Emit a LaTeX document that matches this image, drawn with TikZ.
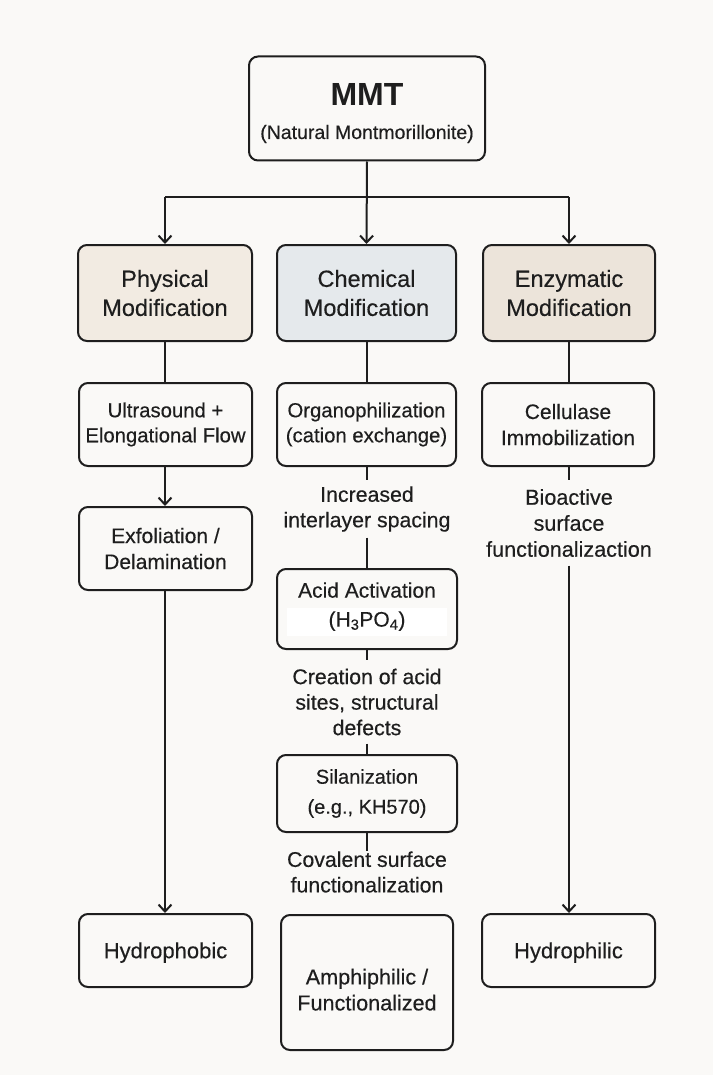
\documentclass[tikz,border=0pt]{standalone}
\usepackage{fontspec}
\setmainfont{Liberation Sans}[UprightFeatures={FakeBold=0.35}]
\usetikzlibrary{arrows.meta}
\definecolor{bg}{HTML}{FAF9F7}
\definecolor{ink}{HTML}{1E1E1E}
\definecolor{physfill}{HTML}{F2EBE2}
\definecolor{chemfill}{HTML}{E5E9EC}
\definecolor{enzfill}{HTML}{ECE4DA}
\begin{document}
\begin{tikzpicture}[x=1pt,y=-1pt,
  box/.style={draw=ink, line width=2pt, rounded corners=9pt, fill=bg, align=center, text=ink, inner sep=0pt, font=\fontsize{21}{26}\selectfont},
  modbox/.style={box, font=\fontsize{23.5}{29}\selectfont},
  note/.style={align=center, text=ink, inner sep=0pt, font=\fontsize{21.3}{25.5}\selectfont},
  link/.style={draw=ink, line width=2pt},
  arr/.style={link, -{Straight Barb[length=7pt,width=13pt,line width=2pt]}},
]
\fill[bg] (0,0) rectangle (713,1075);
\useasboundingbox (0,0) rectangle (713,1075);

% top
\node[box, minimum width=236pt, minimum height=104pt] (mmt) at (367,108.5)
  {\rule{0pt}{32pt}{\fontsize{32}{32}\selectfont\bfseries MMT}\\[7pt]{\fontsize{19.5}{24}\selectfont(Natural Montmorillonite)}};

% modification boxes
\node[modbox, fill=physfill, minimum width=174pt, minimum height=96pt] (phys) at (165,293) {Physical\\Modification};
\node[modbox, fill=chemfill, minimum width=179pt, minimum height=96pt] (chem) at (366.5,293) {Chemical\\Modification};
\node[modbox, fill=enzfill, minimum width=172pt, minimum height=96pt] (enz) at (569,293) {Enzymatic\\Modification};

% second row
\node[box, font=\fontsize{20.3}{25}\selectfont, minimum width=173pt, minimum height=83pt] (ultra) at (165.5,424.5) {Ultrasound +\\Elongational Flow};
\node[box, font=\fontsize{20.3}{25}\selectfont, minimum width=179pt, minimum height=83pt] (organo) at (366.5,424.5) {Organophilization\\(cation exchange)};
\node[box, minimum width=172pt, minimum height=83pt] (cell) at (568,424.5) {Cellulase\\Immobilization};

% physical column
\node[box, minimum width=173pt, minimum height=83pt] (exfol) at (165.5,548.5) {Exfoliation /\\Delamination};
\node[box, font=\fontsize{22}{26}\selectfont, minimum width=173pt, minimum height=73pt] (hphob) at (165.5,950.5) {\rule{0pt}{20pt}Hydrophobic};

% chemical column
\node[note, minimum height=57pt] (incr) at (367,509) {Increased\\interlayer spacing};
\node[box, minimum width=180pt, minimum height=80pt] (acid) at (367,609)
  {Acid Activation\\[3pt]\colorbox{white}{\makebox[154pt]{\rule[-6pt]{0pt}{22pt}(H\textsubscript{3}PO\textsubscript{4})}}};
\node[note, minimum height=83pt] (creat) at (367,702) {Creation of acid\\sites, structural\\defects};
\node[box, font=\fontsize{20}{30}\selectfont, minimum width=180pt, minimum height=77pt] (silan) at (367,793.5) {Silanization\\(e.g., KH570)};
\node[note, minimum height=22pt] (coval) at (367,872) {Covalent surface\\functionalization};
\node[box, font=\fontsize{21.6}{26}\selectfont, minimum width=172pt, minimum height=135pt] (amph) at (367,982.5) {\rule{0pt}{30pt}Amphiphilic /\\Functionalized};

% enzymatic column
\node[note, font=\fontsize{21.6}{26}\selectfont, minimum height=85pt] (bio) at (569,523) {Bioactive\\surface\\functionalizaction};
\node[box, font=\fontsize{22}{26}\selectfont, minimum width=173pt, minimum height=73pt] (hphil) at (568.5,950.5) {\rule{0pt}{20pt}Hydrophilic};

% connectors
\coordinate (split) at (367,197);
\coordinate (sl) at (165,197);
\coordinate (sr) at (569,197);
\draw[link] (sl) -- (sr);
\draw[arr] (mmt.south) -- (chem.north);
\draw[arr] (sl) -- (phys.north);
\draw[arr] (sr) -- (enz.north);

\draw[link] (phys.south) -- (ultra.north -| phys.south);
\draw[link] (chem.south) -- (organo.north -| chem.south);
\draw[link] (enz.south) -- (cell.north -| enz.south);

\draw[arr] (ultra.south -| phys.south) -- (exfol.north -| phys.south);
\draw[arr] (exfol.south -| phys.south) -- (hphob.north -| phys.south);

\draw[link] (organo.south -| incr.north) -- (incr.north);
\draw[link] (incr.south) -- (acid.north -| incr.south);
\draw[link] (acid.south -| creat.north) -- (creat.north);
\draw[link] (creat.south) -- (silan.north -| creat.south);
\draw[link] (silan.south -| coval.north) -- (coval.north);

\draw[link] (cell.south -| bio.north) -- (bio.north);
\draw[arr] (bio.south) -- (hphil.north -| bio.south);
\end{tikzpicture}
\end{document}
